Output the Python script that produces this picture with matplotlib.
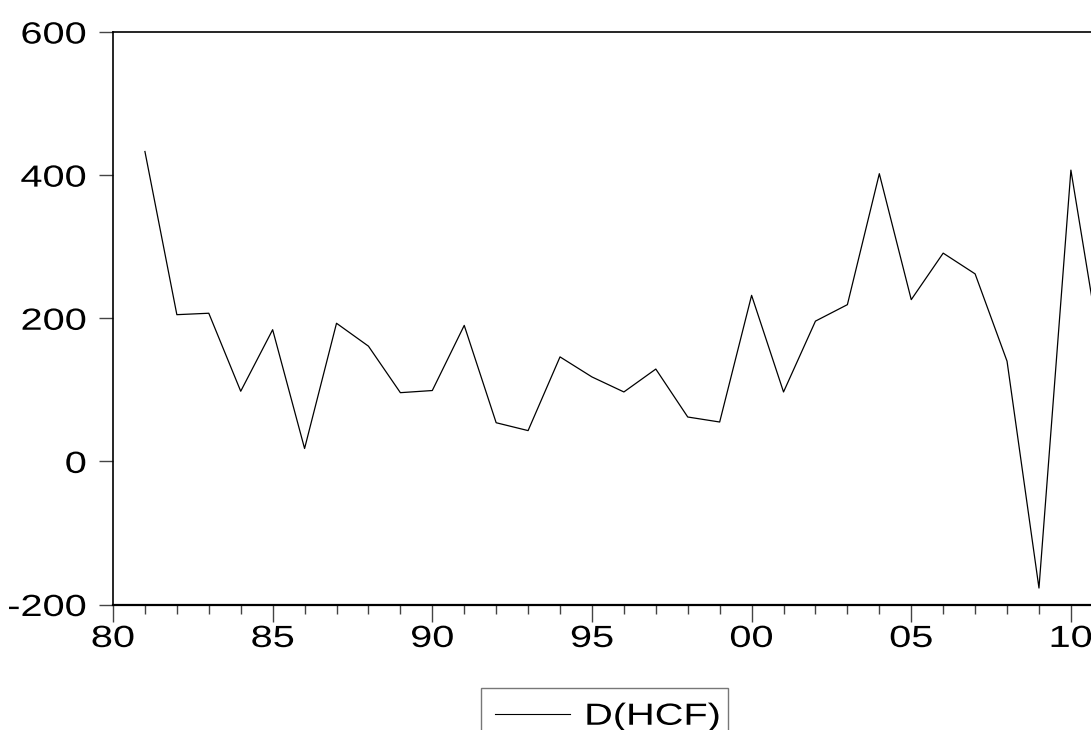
import matplotlib
matplotlib.use('Agg')
import matplotlib.pyplot as plt
from matplotlib.ticker import MultipleLocator, FixedLocator
from matplotlib.patheffects import AbstractPathEffect
from matplotlib.transforms import Affine2D

plt.rcParams['font.family'] = ['Liberation Sans', 'DejaVu Sans']
plt.rcParams['axes.unicode_minus'] = False

# Annual first difference of HCF, 1981-2011
years = list(range(1981, 2012))
d_hcf = [433, 205, 207, 98, 184, 18, 193, 161, 96, 99,
         190, 54, 43, 146, 118, 97, 129, 62, 55, 232,
         97, 196, 219, 402, 226, 291, 262, 140, -177, 407,
         135]

major_years = [1980, 1985, 1990, 1995, 2000, 2005, 2010]
major_labels = ['80', '85', '90', '95', '00', '05', '10']
y_ticks = [-200, 0, 200, 400, 600]


class HStretch(AbstractPathEffect):
    # the source image has its text stretched sideways; widen glyphs about an anchor
    def __init__(self, sx, anchor):
        super().__init__()
        self.sx = sx
        self.anchor = anchor

    def draw_path(self, renderer, gc, tpath, affine, rgbFace=None):
        ext = tpath.get_extents()
        x0 = ext.x0 + self.anchor * ext.width
        stretch = Affine2D().translate(-x0, 0).scale(self.sx, 1).translate(x0, 0)
        renderer.draw_path(gc, tpath, stretch + affine, rgbFace)


W, H = 1091, 730
fig = plt.figure(figsize=(W / 100, H / 100), dpi=100)

# axes box in pixels: left 113, top 32, bottom 605; right edge runs off the image
left, top, bottom = 113, 32, 604.5
year_px = 31.93
right = left + year_px * 32
ax = fig.add_axes([left / W, (H - bottom) / H, (right - left) / W, (bottom - top) / H])

ax.plot(years, d_hcf, color='black', linewidth=0.9, label='D(HCF)')

ax.set_xlim(1980, 2012)
ax.set_ylim(-200, 600)

ax.xaxis.set_major_locator(FixedLocator(major_years))
ax.set_xticklabels(major_labels)
ax.xaxis.set_minor_locator(MultipleLocator(1))
ax.set_yticks(y_ticks)

fs = 22
sx = 1.3
ax.tick_params(axis='x', which='major', direction='out', length=12, width=1,
               color='#444444', labelsize=fs, pad=2)
ax.tick_params(axis='x', which='minor', direction='out', length=6.5, width=1,
               color='#444444')
ax.tick_params(axis='y', which='major', direction='out', length=10, width=1,
               color='#444444', labelsize=fs, pad=9)
ax.tick_params(top=False, right=False)

for lab in ax.get_xticklabels():
    lab.set_path_effects([HStretch(sx, 0.5)])
for lab in ax.get_yticklabels():
    lab.set_path_effects([HStretch(sx, 1.0)])

for side in ['left', 'top', 'right']:
    ax.spines[side].set_linewidth(1.2)
ax.spines['bottom'].set_linewidth(1.6)

leg = fig.legend(loc='upper left', mode='expand',
                 bbox_to_anchor=(481 / W, 0, 247 / W, (H - 688) / H),
                 fontsize=fs, frameon=True, fancybox=False, borderaxespad=0,
                 borderpad=0.45, handlelength=2.45, handletextpad=0.5)
leg.get_frame().set_edgecolor('#555555')
leg.get_frame().set_linewidth(1.0)
leg.get_lines()[0].set_linewidth(0.8)
leg.get_texts()[0].set_path_effects([HStretch(sx, 0.0)])

fig.savefig('out.png', dpi=100)
